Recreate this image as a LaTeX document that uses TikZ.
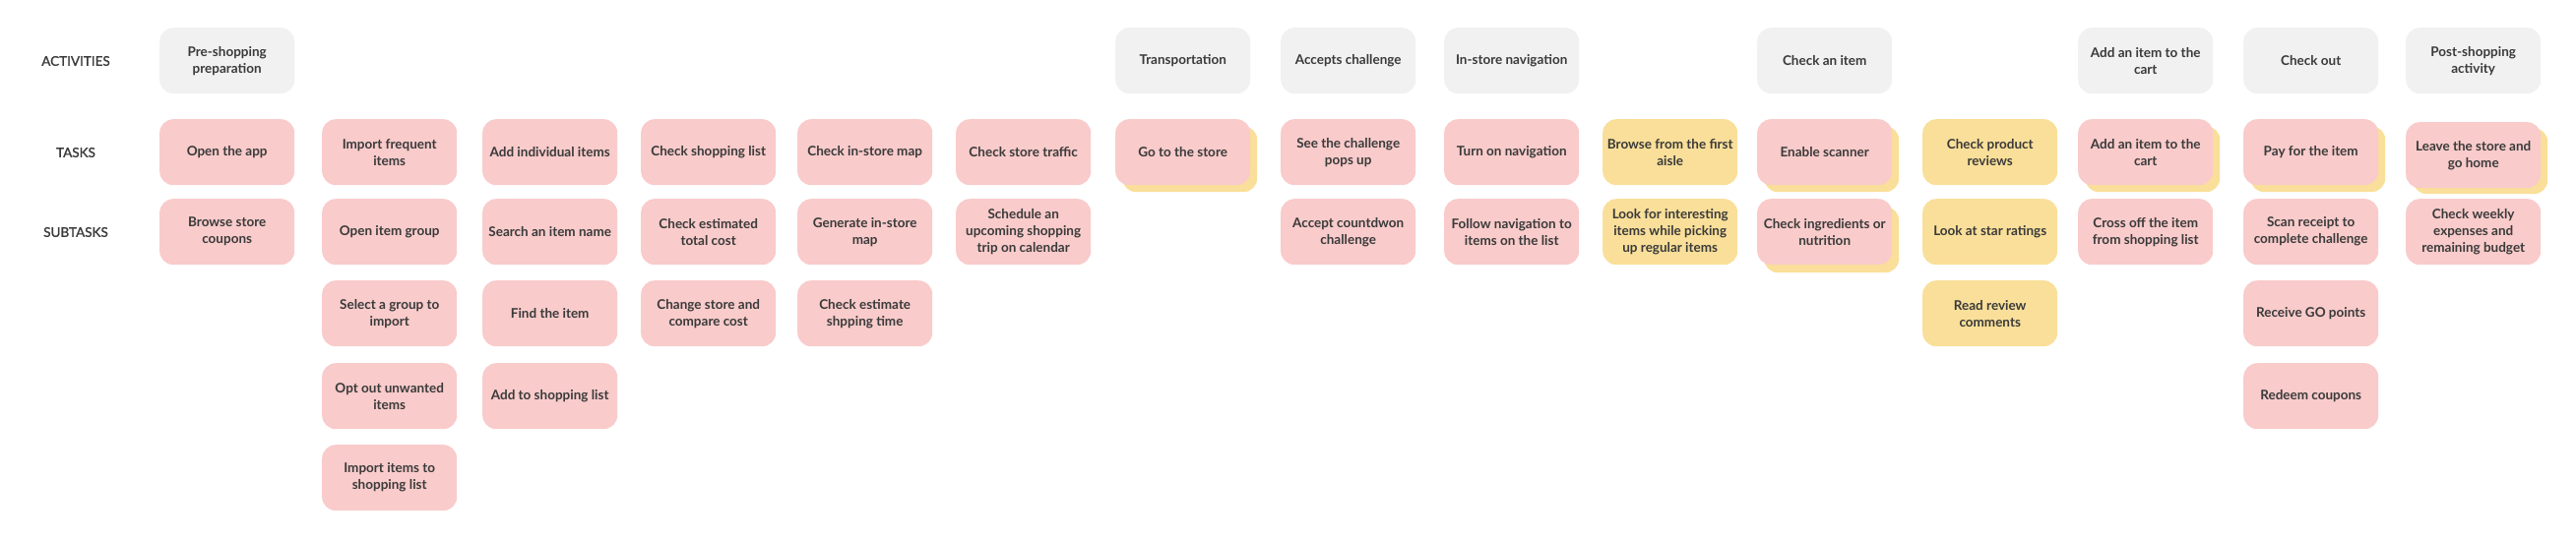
\documentclass[tikz,border=0pt]{standalone}
\usepackage{fontspec}
\setmainfont{Lato}
\newfontfamily\labfont{Lato}[FakeBold=1.2]
\definecolor{pinkc}{HTML}{F9CBCB}
\definecolor{yellowc}{HTML}{F9DF99}
\definecolor{greyc}{HTML}{F1F1F1}
\definecolor{txtc}{HTML}{3A3A3A}
\begin{document}
\begin{tikzpicture}[x=1pt,y=-1pt,
  card/.style={anchor=north west,minimum width=137pt,minimum height=67pt,inner sep=0pt,
    rounded corners=14pt,align=center,text=txtc,font=\bfseries\fontsize{13.5}{17}\selectfont},
  act/.style={card,fill=greyc},
  pk/.style={card,fill=pinkc},
  yl/.style={card,fill=yellowc},
  shadowbox/.style={card,fill=yellowc},
  rowlabel/.style={text=txtc,font=\labfont\fontsize{13.5}{16}\selectfont,anchor=center}]
\useasboundingbox (0,0) rectangle (2617,547);
% row labels
\node[rowlabel] (lA) at (77,62) {ACTIVITIES};
\node[rowlabel] (lT) at (77,155) {TASKS};
\node[rowlabel] (lS) at (77,236) {SUBTASKS};
% column 1
\node[act] (a1) at (162,28) {Pre-shopping\\preparation};
\node[pk] (t1) at (162,121) {Open the app};
\node[pk] (s1a) at (162,202) {Browse store\\coupons};
% column 2
\node[pk] (t2) at (327,121) {Import frequent\\items};
\node[pk] (s2a) at (327,202) {Open item group};
\node[pk] (s2b) at (327,285) {Select a group to\\import};
\node[pk] (s2c) at (327,369) {Opt out unwanted\\items};
\node[pk] (s2d) at (327,452) {Import items to\\shopping list};
% column 3
\node[pk] (t3) at (490,121) {Add individual items};
\node[pk] (s3a) at (490,202) {Search an item name};
\node[pk] (s3b) at (490,285) {Find the item};
\node[pk] (s3c) at (490,369) {Add to shopping list};
% column 4
\node[pk] (t4) at (651,121) {Check shopping list};
\node[pk] (s4a) at (651,202) {Check estimated\\total cost};
\node[pk] (s4b) at (651,285) {Change store and\\compare cost};
% column 5
\node[pk] (t5) at (810,121) {Check in-store map};
\node[pk] (s5a) at (810,202) {Generate in-store\\map};
\node[pk] (s5b) at (810,285) {Check estimate\\shpping time};
% column 6
\node[pk] (t6) at (971,121) {Check store traffic};
\node[pk] (s6a) at (971,202) {Schedule an\\upcoming shopping\\trip on calendar};
% column 7
\node[act] (a7) at (1133,28) {Transportation};
\node[shadowbox] (t7y) at (1140,128) {};
\node[pk] (t7) at (1133,121) {Go to the store};
% column 8
\node[act] (a8) at (1301,28) {Accepts challenge};
\node[pk] (t8) at (1301,121) {See the challenge\\pops up};
\node[pk] (s8a) at (1301,202) {Accept countdwon\\challenge};
% column 9
\node[act] (a9) at (1467,28) {In-store navigation};
\node[pk] (t9) at (1467,121) {Turn on navigation};
\node[pk] (s9a) at (1467,202) {Follow navigation to\\items on the list};
% column 10
\node[yl] (t10) at (1628,121) {Browse from the first\\aisle};
\node[yl] (s10a) at (1628,202) {Look for interesting\\items while picking\\up regular items};
% column 11
\node[act] (a11) at (1785,28) {Check an item};
\node[shadowbox] (t11y) at (1792,128) {};
\node[pk] (t11) at (1785,121) {Enable scanner};
\node[shadowbox] (s11y) at (1792,210) {};
\node[pk] (s11a) at (1785,202) {Check ingredients or\\nutrition};
% column 12
\node[yl] (t12) at (1953,121) {Check product\\reviews};
\node[yl] (s12a) at (1953,202) {Look at star ratings};
\node[yl] (s12b) at (1953,285) {Read review\\comments};
% column 13
\node[act] (a13) at (2111,28) {Add an item to the\\cart};
\node[shadowbox] (t13y) at (2118,128) {};
\node[pk] (t13) at (2111,121) {Add an item to the\\cart};
\node[pk] (s13a) at (2111,202) {Cross off the item\\from shopping list};
% column 14
\node[act] (a14) at (2279,28) {Check out};
\node[shadowbox] (t14y) at (2286,128) {};
\node[pk] (t14) at (2279,121) {Pay for the item};
\node[pk] (s14a) at (2279,202) {Scan receipt to\\complete challenge};
\node[pk] (s14b) at (2279,285) {Receive GO points};
\node[pk] (s14c) at (2279,369) {Redeem coupons};
% column 15
\node[act] (a15) at (2444,28) {Post-shopping\\activity};
\node[shadowbox] (t15y) at (2451,130) {};
\node[pk] (t15) at (2444,124) {Leave the store and\\go home};
\node[pk] (s15a) at (2444,202) {Check weekly\\expenses and\\remaining budget};
\end{tikzpicture}
\end{document}
